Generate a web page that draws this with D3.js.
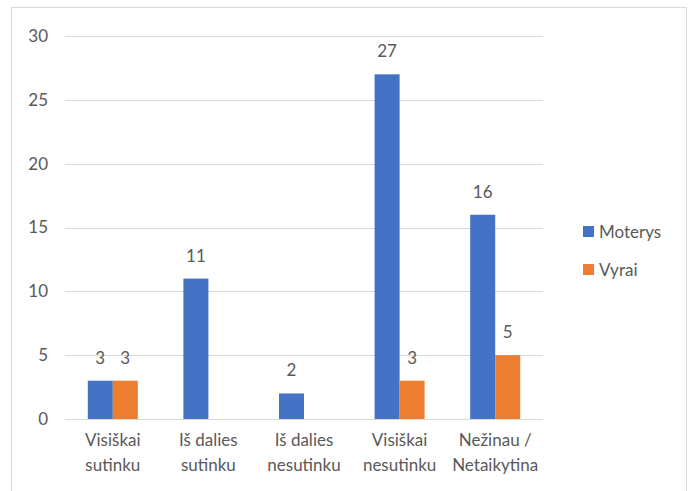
<!DOCTYPE html>
<html lang="lt">
<head>
<meta charset="UTF-8">
<title>Chart</title>
<style>
  body { margin: 0; background: #ffffff; }
  svg { display: block; }
  text { font-family: Lato, "Open Sans", sans-serif; fill: #595959; }
</style>
</head>
<body>
<svg id="chart" width="688" height="491"></svg>
<script src="https://cdn.jsdelivr.net/npm/d3@7"></script>
<script>
var categories = [["Visiškai", "sutinku"], ["Iš dalies", "sutinku"], ["Iš dalies", "nesutinku"], ["Visiškai", "nesutinku"], ["Nežinau /", "Netaikytina"]];
var seriesNames = ["Moterys", "Vyrai"];
var moterys = [3, 11, 2, 27, 16];
var vyrai = [3, null, null, 3, 5];
var yTicks = [0, 5, 10, 15, 20, 25, 30];
var colors = ["#4472C4", "#ED7D31"];

var svg = d3.select("#chart");
var fs = 17;

// chart frame
svg.append("rect")
  .attr("x", 11.5).attr("y", 7.5)
  .attr("width", 675).attr("height", 500)
  .attr("fill", "none").attr("stroke", "#d9d9d9");

var plotLeft = 65, plotRight = 543, plotTop = 36, plotBottom = 419;

var x0 = d3.scaleBand()
  .domain(d3.range(categories.length))
  .range([plotLeft, plotRight])
  .paddingInner(0.477)
  .paddingOuter(0.2385);

var x1 = d3.scaleBand()
  .domain(seriesNames)
  .range([0, x0.bandwidth()]);

var y = d3.scaleLinear().domain([0, 30]).range([plotBottom, plotTop]);

// gridlines
svg.append("g").selectAll("line")
  .data(yTicks)
  .enter().append("line")
  .attr("x1", plotLeft).attr("x2", plotRight)
  .attr("y1", d => Math.round(y(d)) + 0.5)
  .attr("y2", d => Math.round(y(d)) + 0.5)
  .attr("stroke", "#d9d9d9")
  .attr("stroke-width", 1);

// y tick labels
svg.append("g").selectAll("text")
  .data(yTicks)
  .enter().append("text")
  .attr("x", 48)
  .attr("y", d => y(d))
  .attr("dy", "0.35em")
  .attr("text-anchor", "end")
  .attr("font-size", fs)
  .text(d => d);

var series = [moterys, vyrai];
var rows = [];
series.forEach(function(vals, s) {
  vals.forEach(function(v, i) {
    if (v != null) rows.push({ s: s, i: i, v: v });
  });
});

var bars = svg.append("g");
bars.selectAll("rect")
  .data(rows)
  .enter().append("rect")
  .attr("x", d => x0(d.i) + x1(seriesNames[d.s]))
  .attr("y", d => y(d.v))
  .attr("width", x1.bandwidth())
  .attr("height", d => y(0) - y(d.v))
  .attr("fill", d => colors[d.s]);

bars.selectAll("text")
  .data(rows)
  .enter().append("text")
  .attr("x", d => x0(d.i) + x1(seriesNames[d.s]) + x1.bandwidth() / 2)
  .attr("y", d => y(d.v) - 23)
  .attr("dy", "0.35em")
  .attr("text-anchor", "middle")
  .attr("font-size", fs)
  .text(d => d.v);

// category labels
var cat = svg.append("g").selectAll("text")
  .data(categories)
  .enter().append("text")
  .attr("text-anchor", "middle")
  .attr("font-size", fs)
  .attr("y", 446);
cat.append("tspan")
  .attr("x", (d, i) => x0(i) + x0.bandwidth() / 2)
  .text(d => d[0]);
cat.append("tspan")
  .attr("x", (d, i) => x0(i) + x0.bandwidth() / 2)
  .attr("dy", 25)
  .text(d => d[1]);

// legend
var legend = svg.append("g").selectAll("g")
  .data(seriesNames)
  .enter().append("g")
  .attr("transform", (d, i) => "translate(583," + (226 + i * 38) + ")");
legend.append("rect")
  .attr("width", 11).attr("height", 11)
  .attr("fill", (d, i) => colors[i]);
legend.append("text")
  .attr("x", 16).attr("y", 6)
  .attr("dy", "0.35em")
  .attr("font-size", fs)
  .text(d => d);
</script>
</body>
</html>
